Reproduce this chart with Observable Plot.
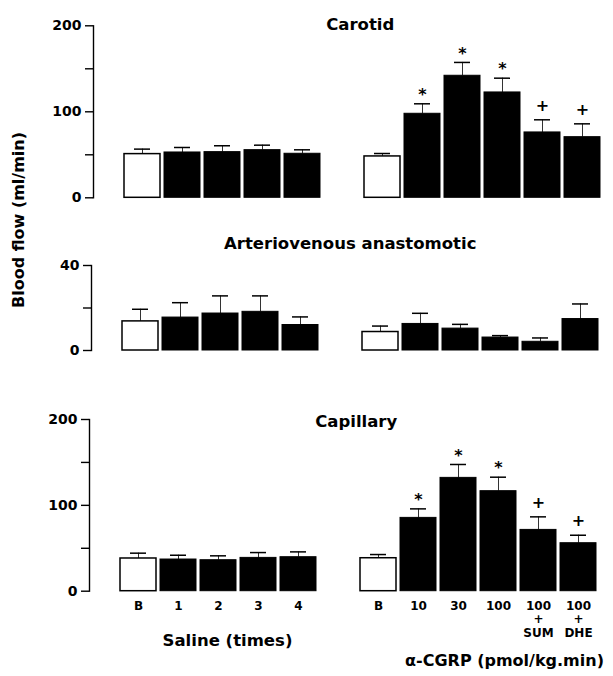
<!DOCTYPE html>
<html>
<head>
<meta charset="utf-8">
<script src="https://cdn.jsdelivr.net/npm/d3@7"></script>
<script src="https://cdn.jsdelivr.net/npm/@observablehq/plot@0.6"></script>
<style>
  body { margin: 0; background: #fff; }
  #chart { position: relative; width: 613px; height: 676px; overflow: hidden; font-family: "DejaVu Sans", sans-serif; }
  #chart svg { position: absolute; overflow: visible; }
</style>
</head>
<body>
<div id="chart"></div>
<script>
// ---- data ----
const salineLabels = ["B", "1", "2", "3", "4"];
const cgrpLabels = ["B", "10", "30", "100", "100\n+\nSUM", "100\n+\nDHE"];

const carotidSaline = [50.8, 52.7, 53.1, 55.4, 51.2];
const carotidSalineSem = [5.8, 5.8, 7.4, 5.8, 4.6];
const carotidCgrp = [48.1, 97.7, 141.9, 122.5, 76.0, 70.5];
const carotidCgrpSem = [3.4, 11.6, 15.5, 16.6, 14.7, 15.5];
const carotidMarks = ["", "*", "*", "*", "+", "+"];

const avSaline = [13.7, 15.5, 17.4, 18.2, 12.0];
const avSalineSem = [5.7, 7.0, 8.3, 7.5, 3.8];
const avCgrp = [8.7, 12.5, 10.3, 6.1, 4.1, 14.8];
const avCgrpSem = [2.8, 5.0, 2.0, 0.9, 1.8, 7.1];
const avMarks = ["", "", "", "", "", ""];

const capSaline = [38.1, 36.9, 36.1, 38.8, 39.6];
const capSalineSem = [6.2, 5.0, 5.1, 6.2, 6.2];
const capCgrp = [38.4, 85.4, 132.0, 116.5, 71.4, 55.9];
const capCgrpSem = [4.3, 10.5, 15.6, 16.3, 15.2, 9.3];
const capMarks = ["", "*", "*", "*", "+", "+"];

const panelTitles = ["Carotid", "Arteriovenous anastomotic", "Capillary"];
const yLabel = "Blood flow (ml/min)";
const salineTitle = "Saline (times)";
const cgrpTitle = "α-CGRP (pmol/kg.min)";

const ticks200 = [0, 50, 100, 150, 200];
const labels200 = [0, 100, 200];
const ticks40 = [0, 20, 40];
const labels40 = [0, 40];

// ---- build rows ----
const xDomain = [...salineLabels.map((_, i) => "s" + i), "gap", ...cgrpLabels.map((_, i) => "c" + i)];
function rowsFor(sal, salSem, cg, cgSem, marks) {
  const r = [];
  sal.forEach((v, i) => r.push({key: "s" + i, label: salineLabels[i], value: v, top: v + salSem[i], base: i === 0, mark: ""}));
  cg.forEach((v, i) => r.push({key: "c" + i, label: cgrpLabels[i], value: v, top: v + cgSem[i], base: i === 0, mark: marks[i]}));
  return r;
}

const FONT = "DejaVu Sans";

function panel(o) {
  const rows = o.rows;
  const marks = [
    Plot.axisY({ticks: o.ticks, tickFormat: d => o.labels.includes(d) ? String(d) : "", tickSize: 8, tickPadding: 4,
      fontSize: 14, fontWeight: "bold", strokeWidth: 1.4}),
    Plot.frame({anchor: "left", strokeWidth: 1.4}),
    Plot.ruleX(rows, {x: "key", y1: "value", y2: "top", stroke: "#333", strokeWidth: 1}),
    Plot.tickY(rows, {x: "key", y: "top", insetLeft: 10, insetRight: 10, stroke: "black", strokeWidth: 1.5}),
    Plot.barY(rows.filter(d => d.base), {x: "key", y: "value", fill: "white", stroke: "black", strokeWidth: 1.5}),
    Plot.barY(rows.filter(d => !d.base), {x: "key", y: "value", fill: "black", stroke: "black", strokeWidth: 1}),
    Plot.text(rows.filter(d => d.mark === "*"), {x: "key", y: "top", text: "mark", dy: -9, fontSize: 16, fontWeight: "bold"}),
    Plot.text(rows.filter(d => d.mark === "+"), {x: "key", y: "top", text: "mark", dy: -14, fontSize: 16, fontWeight: "bold"}),
    Plot.text([o.title], {frameAnchor: "top", lineAnchor: "middle", dx: o.titleDx, dy: o.titleDy, fontSize: 16.5, fontWeight: "bold"})
  ];
  if (o.extra) marks.push(...o.extra(rows));
  const svg = Plot.plot({
    width: 613, height: o.height,
    marginLeft: 93, marginRight: 12.5, marginTop: o.marginTop, marginBottom: o.marginBottom,
    style: {fontFamily: FONT, background: "transparent", color: "black", overflow: "visible"},
    x: {domain: xDomain, paddingInner: 0.09, paddingOuter: 0.28, align: 1, axis: null},
    y: {domain: [0, o.yMax], axis: null},
    marks
  });
  svg.style.top = o.top + "px";
  svg.style.left = o.left + "px";
  document.getElementById("chart").appendChild(svg);
}

panel({
  title: panelTitles[0], rows: rowsFor(carotidSaline, carotidSalineSem, carotidCgrp, carotidCgrpSem, carotidMarks),
  yMax: 200, ticks: ticks200, labels: labels200,
  height: 210, marginTop: 25.3, marginBottom: 12.7, top: 0, left: 0, titleDx: 13, titleDy: -1
});

panel({
  title: panelTitles[1], rows: rowsFor(avSaline, avSalineSem, avCgrp, avCgrpSem, avMarks),
  yMax: 40, ticks: ticks40, labels: labels40,
  height: 130, marginTop: 35, marginBottom: 10, top: 230, left: -2, titleDx: 5, titleDy: -22,
  extra: () => [
    Plot.text([yLabel], {frameAnchor: "left", rotate: -90, dx: -73, dy: 0, fontSize: 16, fontWeight: "bold"})
  ]
});

panel({
  title: panelTitles[2], rows: rowsFor(capSaline, capSalineSem, capCgrp, capCgrpSem, capMarks),
  yMax: 200, ticks: ticks200, labels: labels200,
  height: 276, marginTop: 19, marginBottom: 85.3, top: 400, left: -4, titleDx: 13, titleDy: 2.5,
  extra: (rows) => [
    Plot.text(rows, {x: "key", text: "label", frameAnchor: "bottom", lineAnchor: "top", dy: 9, fontSize: 12, fontWeight: "bold", lineHeight: 1.12}),
    Plot.text([{key: "s2", t: salineTitle}], {x: "key", text: "t", frameAnchor: "bottom", lineAnchor: "middle", dy: 50, dx: 9, fontSize: 16.5, fontWeight: "bold"}),
    Plot.text([{key: "c3", t: cgrpTitle}], {x: "key", text: "t", frameAnchor: "bottom", lineAnchor: "middle", dy: 70, dx: 6, fontSize: 16, fontWeight: "bold"})
  ]
});
</script>
</body>
</html>
